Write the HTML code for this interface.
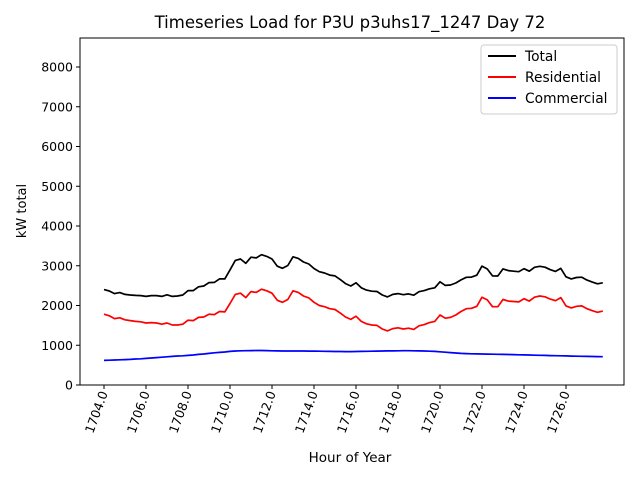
<!DOCTYPE html>
<html><head><meta charset="utf-8"><style>
body{margin:0;background:#fff;}
svg{font-family:"DejaVu Sans","Liberation Sans",sans-serif;}
</style></head><body>
<svg id="c" width="640" height="480" viewBox="0 0 640 480">
<rect width="640" height="480" fill="#fff"/>
<text x="350" y="28" font-size="16.5" text-anchor="middle">Timeseries Load for P3U p3uhs17_1247  Day 72</text>
<g id="ax"></g><g id="series"></g>
<rect x="80" y="38" width="544" height="347" fill="none" stroke="#000" stroke-width="1"/>
<text x="26" y="211" font-size="13" text-anchor="middle" transform="rotate(-90 26 211)">kW total</text>
<text x="350" y="462" font-size="13.5" text-anchor="middle">Hour of Year</text>
<g>
<rect x="481" y="45" width="136" height="69" rx="3" fill="#fff" stroke="#ccc"/>
<line x1="488" y1="56" x2="516" y2="56" stroke="#000" stroke-width="2"/><text x="525" y="61" font-size="13.8">Total</text>
<line x1="488" y1="77" x2="516" y2="77" stroke="#f00" stroke-width="2"/><text x="525" y="82" font-size="13.8">Residential</text>
<line x1="488" y1="98" x2="516" y2="98" stroke="#00f" stroke-width="2"/><text x="525" y="103" font-size="13.8">Commercial</text>
</g>
</svg>
<script>
const xStart = 1704, xStep = 0.25;
const xTicks = [1704,1706,1708,1710,1712,1714,1716,1718,1720,1722,1724,1726];
const yTicks = [0,1000,2000,3000,4000,5000,6000,7000,8000];
const residential = [1780,1740,1670,1690,1640,1620,1600,1590,1560,1570,1560,1530,1560,1510,1510,1530,1630,1620,1700,1710,1780,1770,1850,1840,2050,2280,2310,2200,2350,2330,2410,2370,2310,2130,2080,2150,2370,2330,2240,2190,2080,2000,1970,1920,1900,1810,1710,1650,1730,1600,1540,1510,1500,1410,1360,1420,1440,1410,1430,1400,1490,1520,1570,1600,1760,1680,1700,1760,1850,1920,1930,1980,2210,2140,1970,1970,2150,2110,2100,2090,2170,2110,2210,2240,2220,2160,2120,2200,1990,1940,1980,1990,1920,1870,1830,1860];
const commercial = [620,625,630,635,640,645,655,660,670,680,690,700,710,720,730,735,745,755,770,780,795,810,820,830,845,855,860,862,865,868,868,865,860,858,856,856,856,856,855,854,852,850,848,846,844,842,840,840,842,845,848,850,852,855,857,859,860,862,862,860,858,855,850,845,835,825,815,805,795,790,785,782,780,778,775,772,770,767,764,760,757,754,750,747,744,740,737,734,731,728,725,722,720,718,715,712];
const total = [2400,2365,2300,2325,2280,2265,2255,2250,2230,2250,2250,2230,2270,2230,2240,2265,2375,2375,2470,2490,2575,2580,2670,2670,2895,3135,3170,3062,3215,3198,3278,3235,3170,2988,2936,3006,3226,3186,3095,3044,2932,2850,2818,2766,2744,2652,2550,2490,2572,2445,2388,2360,2352,2265,2217,2279,2300,2272,2292,2260,2348,2375,2420,2445,2595,2505,2515,2565,2645,2710,2715,2762,2990,2918,2745,2742,2920,2877,2864,2850,2927,2864,2960,2987,2964,2900,2857,2934,2721,2668,2705,2712,2640,2588,2545,2572];
const NS="http://www.w3.org/2000/svg";
const X = v => 104 + (v-1704)*21;
const Y = v => 385 - v*0.03975;
const ax=document.getElementById('ax'), sg=document.getElementById('series');
function mk(t,a,p){const e=document.createElementNS(NS,t);for(const k in a)e.setAttribute(k,a[k]);p.appendChild(e);return e;}
yTicks.forEach(v=>{
  const y=Y(v);
  const l=mk('line',{x1:76,x2:80,y1:y,y2:y,stroke:'#000'},ax);
  
  
  const t=mk('text',{x:73,y:y+4.5,'font-size':12.5,'text-anchor':'end'},ax);t.textContent=v;
  
  
});
xTicks.forEach(v=>{
  const x=X(v);
  const l=mk('line',{x1:x,x2:x,y1:385,y2:389,stroke:'#000'},ax);
  
  
  const t=mk('text',{x:x+4,y:393,'font-size':12.5,'text-anchor':'end',transform:`rotate(-70 ${x+4} 393)`},ax);t.textContent=v.toFixed(1);
  
  
});
[[total,'#000','total-line'],[residential,'#f00','residential-line'],[commercial,'#00f','commercial-line']].forEach(([d,c,n])=>{
  const pts=d.map((v,i)=>X(xStart+i*xStep).toFixed(1)+','+Y(v).toFixed(1)).join(' ');
  const p=mk('polyline',{points:pts,fill:'none',stroke:c,'stroke-width':1.7,'stroke-linejoin':'round'},sg);
  
  
});
</script>
</body></html>
